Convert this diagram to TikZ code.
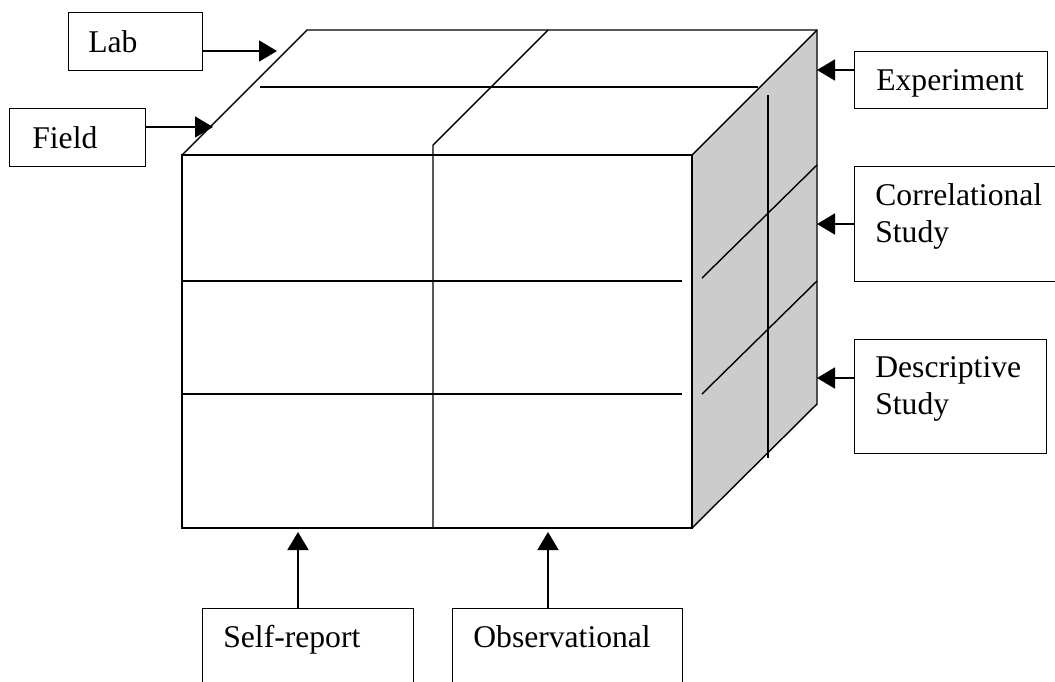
\documentclass[tikz,border=0pt]{standalone}
\usepackage{fontspec}
\setmainfont{Liberation Serif}
\usetikzlibrary{arrows.meta}
\tikzstyle{tbox}=[draw,line width=0.8pt,anchor=north west,inner sep=0pt,fill=white]
\tikzstyle{txt}=[inner sep=0pt,align=left,anchor=base west,font=\fontsize{18}{21}\selectfont]
\tikzstyle{edge} = [draw,line width=1pt,-{Triangle[length=0.36cm,width=0.42cm]}]
\tikzstyle{cube} = [line width=0.8pt,line join=miter]

\begin{document}
\begin{tikzpicture}[x=0.02cm,y=-0.02cm]

    \useasboundingbox (0,0) rectangle (1055,681);
    \clip (0,0) rectangle (1055,681);

    % the cube
    \fill[black!20] (692,155) -- (817,30) -- (817,404) -- (692,528) -- cycle;
    \draw[cube] (182,155) rectangle (692,528);
    \draw[cube] (182,155) -- (307,30) -- (817,30) -- (817,404) -- (692,528);
    \draw[cube] (692,155) -- (817,30);
    \draw[cube] (548,30) -- (433,145) -- (433,528);
    \draw[cube] (260,87) -- (758,87);
    \draw[cube] (182,281) -- (682,281);
    \draw[cube] (182,394) -- (682,394);
    \draw[cube] (768,95) -- (768,458);
    \draw[cube] (702,278) -- (817,165);
    \draw[cube] (702,394) -- (817,281);

    % the labels (dy = baseline of the last line)
    \foreach \name/\x/\y/\w/\h/\dx/\dy/\text in {lab/68/12/134/58/20/40/Lab, field/9/108/136/58/23/40/Field,
        exp/854/51/193/57/22/39/Experiment, corr/854/166/230/115/21/76/{Correlational\\Study},
        desc/854/339/192/114/21/75/{Descriptive\\Study}, self/202/608/211/100/21/39/Self-report,
        obs/452/608/230/100/21/39/Observational}
    {
        \node[tbox, minimum width=\w*0.02cm, minimum height=\h*0.02cm] (\name) at (\x,\y) {};
        \node[txt] (\name txt) at ([shift={(\dx,\dy)}]\name.north west) {\text};
    }

    \coordinate (tlab) at (277,51);
    \coordinate (tfield) at (213,127);
    \coordinate (texp) at (817,70);
    \coordinate (tcorr) at (817,224);
    \coordinate (tdesc) at (817,378);
    \coordinate (tself) at (298,532);
    \coordinate (tobs) at (548,532);

    \path[edge] (lab.east |- tlab) -- (tlab);
    \path[edge] (field.east |- tfield) -- (tfield);
    \path[edge] (exp.west |- texp) -- (texp);
    \path[edge] (corr.west |- tcorr) -- (tcorr);
    \path[edge] (desc.west |- tdesc) -- (tdesc);
    \path[edge] (tself |- self.north) -- (tself);
    \path[edge] (tobs |- obs.north) -- (tobs);

\end{tikzpicture}
\end{document}
